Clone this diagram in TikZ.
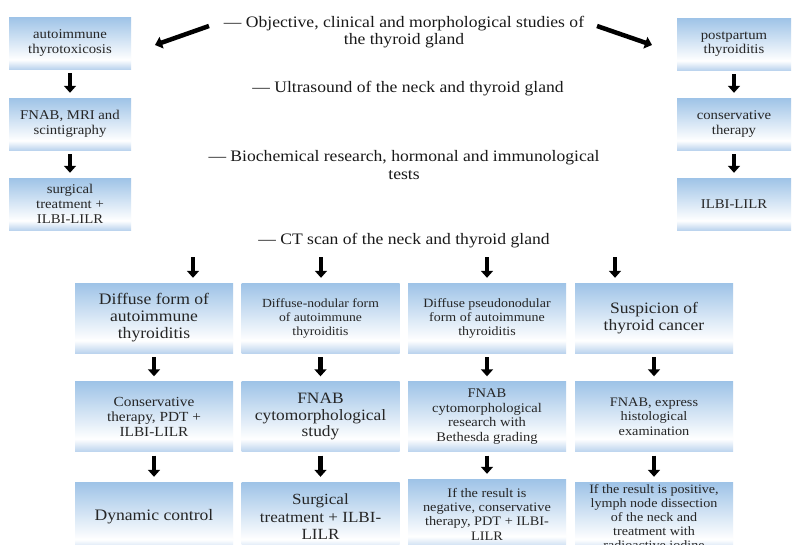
\documentclass[tikz,border=0pt]{standalone}
\usepackage{fontspec}
\setmainfont{Liberation Serif}[FakeStretch=1.1]
\usetikzlibrary{arrows.meta}
\definecolor{btop}{RGB}{158,195,231}
\definecolor{bbot}{RGB}{188,212,238}
\pgfdeclareverticalshading{boxshade}{100bp}{color(0bp)=(bbot); color(25bp)=(bbot); color(34bp)=(white); color(75bp)=(btop); color(100bp)=(btop)}
\newcommand{\fs}[2]{\fontsize{#1}{#2}\selectfont}
\tikzset{
  sbox/.style={shading=boxshade, inner sep=0pt, align=center, text=black!85},
  lbox/.style={sbox, minimum width=122pt, minimum height=52pt},
  rbox/.style={sbox, minimum width=114pt, minimum height=52pt},
  bbox/.style={sbox, minimum width=158pt, minimum height=70pt},
  note/.style={inner sep=0pt, align=center, text=black!90},
  darr/.style={line width=4.5pt, -{Triangle[width=12pt,length=7pt]}},
}
\begin{document}
\begin{tikzpicture}[x=1pt, y=-1pt]
\clip (0,0) rectangle (792,544);
\fill[white] (0,0) rectangle (792,544);

% top notes
\node[note, font=\rmfamily\fs{16}{17.5}] (obj) at (404,32) {— Objective, clinical and morphological studies of\\the thyroid gland};
\node[note, font=\rmfamily\fs{16}{17.5}] (ultra) at (408,89) {— Ultrasound of the neck and thyroid gland};
\node[note, font=\rmfamily\fs{16}{17.5}] (bio) at (404,165) {— Biochemical research, hormonal and immunological\\tests};
\node[note, font=\rmfamily\fs{16}{17.5}] (ct) at (404,241) {— CT scan of the neck and thyroid gland};

% left column
\node[lbox, font=\rmfamily\fs{13.4}{14.5}] (l1) at (70,43) {autoimmune\\thyrotoxicosis};
\node[lbox, font=\rmfamily\fs{13.4}{14.5}] (l2) at (70,124) {FNAB, MRI and\\scintigraphy};
\node[lbox, font=\rmfamily\fs{13.4}{15}] (l3) at (70,204) {surgical\\treatment +\\ILBI-LILR};

% right column
\node[rbox, font=\rmfamily\fs{13.4}{14.5}] (r1) at (734,44) {postpartum\\thyroiditis};
\node[rbox, font=\rmfamily\fs{13.4}{14.5}] (r2) at (734,124) {conservative\\therapy};
\node[rbox, font=\rmfamily\fs{13.4}{14.5}] (r3) at (734,204) {ILBI-LILR};

% bottom grid
\node[bbox, font=\rmfamily\fs{16}{17}] (b11) at (154,318) {\raisebox{-3pt}{\parbox{150pt}{\centering Diffuse form of\\autoimmune\\thyroiditis}}};
\node[bbox, font=\rmfamily\fs{12.4}{14}] (b12) at (320.5,318) {Diffuse-nodular form\\of autoimmune\\thyroiditis};
\node[bbox, font=\rmfamily\fs{12.7}{14}] (b13) at (487,318) {Diffuse pseudonodular\\form of autoimmune\\thyroiditis};
\node[bbox, font=\rmfamily\fs{15.9}{17}] (b14) at (654,318) {\raisebox{-3pt}{\parbox{150pt}{\centering Suspicion of\\thyroid cancer}}};

\node[bbox, font=\rmfamily\fs{13.9}{15}] (b21) at (154,416.5) {Conservative\\therapy, PDT +\\ILBI-LILR};
\node[bbox, font=\rmfamily\fs{15.8}{16.7}] (b22) at (320.5,416.5) {FNAB\\cytomorphological\\study};
\node[bbox, font=\rmfamily\fs{13.2}{14.4}] (b23) at (487,416.5) {FNAB\\cytomorphological\\research with\\Bethesda grading};
\node[bbox, font=\rmfamily\fs{13}{14.3}] (b24) at (654,416.5) {FNAB, express\\histological\\examination};

\node[bbox, font=\rmfamily\fs{16}{17}] (b31) at (154,517) {Dynamic control};
\node[bbox, font=\rmfamily\fs{15.5}{17.5}] (b32) at (320.5,517) {Surgical\\treatment + ILBI-\\LILR};
\node[bbox, font=\rmfamily\fs{13}{14.3}] (b33) at (487,514) {If the result is\\negative, conservative\\therapy, PDT + ILBI-\\LILR};
\node[bbox, font=\rmfamily\fs{12.8}{13.8}] (b34) at (654,517) {If the result is positive,\\lymph node dissection\\of the neck and\\treatment with\\radioactive iodine};

% arrows, left and right columns
\draw[darr, shorten <=4pt, shorten >=5pt] (l1) -- (l2);
\draw[darr, shorten <=4pt, shorten >=5pt] (l2) -- (l3);
\draw[darr, shorten <=4pt, shorten >=5pt] (r1) -- (r2);
\draw[darr, shorten <=4pt, shorten >=5pt] (r2) -- (r3);

% diagonal arrows
\coordinate (dl1) at (209,26);
\coordinate (dl2) at (155,45);
\coordinate (dr1) at (597,26);
\coordinate (dr2) at (652,45);
\draw[darr] (dl1) -- (dl2);
\draw[darr] (dr1) -- (dr2);

% arrows from CT scan to the four forms
\coordinate (t1) at (193,257);
\coordinate (t2) at (321,257);
\coordinate (t3) at (487,257);
\coordinate (t4) at (615,257);
\draw[darr, shorten >=5pt] (t1) -- (t1 |- b11.north);
\draw[darr, shorten >=5pt] (t2) -- (t2 |- b12.north);
\draw[darr, shorten >=5pt] (t3) -- (t3 |- b13.north);
\draw[darr, shorten >=5pt] (t4) -- (t4 |- b14.north);

% arrows down the grid
\draw[darr, shorten <=4pt, shorten >=5pt] (b11) -- (b21);
\draw[darr, shorten <=4pt, shorten >=5pt] (b12) -- (b22);
\draw[darr, shorten <=4pt, shorten >=5pt] (b13) -- (b23);
\draw[darr, shorten <=4pt, shorten >=5pt] (b14) -- (b24);
\draw[darr, shorten <=4pt, shorten >=5pt] (b21) -- (b31);
\draw[darr, shorten <=4pt, shorten >=5pt] (b22) -- (b32);
\draw[darr, shorten <=4pt, shorten >=5pt] (b23) -- (b33);
\draw[darr, shorten <=4pt, shorten >=5pt] (b24) -- (b34);
\end{tikzpicture}
\end{document}
